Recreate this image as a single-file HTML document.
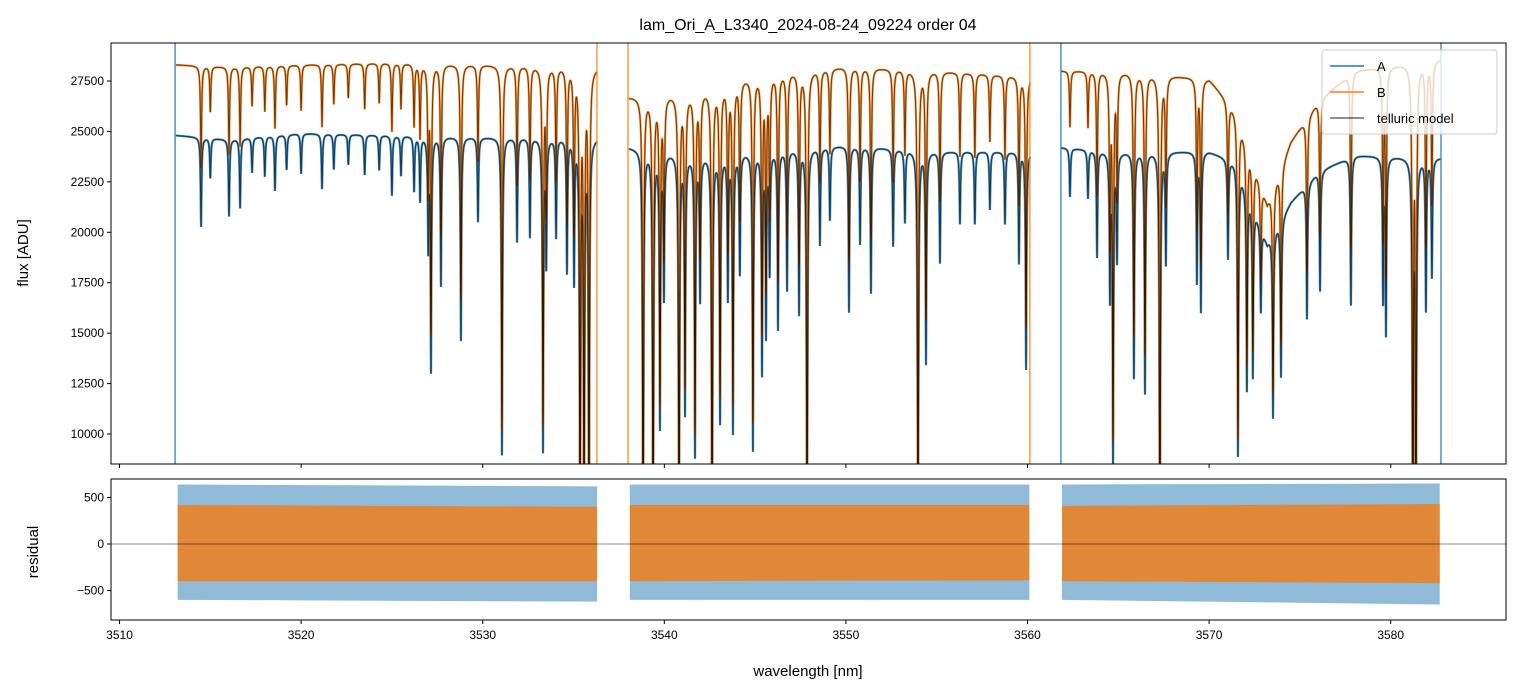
<!DOCTYPE html>
<html><head><meta charset="utf-8">
<style>
html,body{margin:0;padding:0;background:#fff;}
svg{display:block;font-family:"Liberation Sans","DejaVu Sans",sans-serif;}
</style></head>
<body>
<svg id="chart" width="1520" height="696" viewBox="0 0 1520 696" xmlns="http://www.w3.org/2000/svg">
<defs>
<clipPath id="clipTop"><rect x="111" y="43" width="1395" height="421"/></clipPath>
<clipPath id="clipBot"><rect x="111" y="479" width="1395" height="141"/></clipPath>
</defs>
<rect x="0" y="0" width="1520" height="696" fill="#fff"/>
<text x="808" y="30" text-anchor="middle" font-size="16" fill="#000">lam_Ori_A_L3340_2024-08-24_09224  order 04</text>
<g id="topPlot" clip-path="url(#clipTop)"></g>
<g id="botPlot" clip-path="url(#clipBot)"></g>
<g id="axes"></g>
<text transform="translate(28,253) rotate(-90)" text-anchor="middle" font-size="15">flux [ADU]</text>
<text transform="translate(38,552) rotate(-90)" text-anchor="middle" font-size="15">residual</text>
<text x="808" y="676" text-anchor="middle" font-size="15">wavelength [nm]</text>
<g>
<rect x="1322" y="50" width="175" height="84" rx="3" fill="#fff" fill-opacity="0.8" stroke="#ccc"/>
<line x1="1330" y1="66" x2="1364" y2="66" stroke="#1f77b4" stroke-width="1.5"/>
<text x="1377" y="71" font-size="13">A</text>
<line x1="1330" y1="92" x2="1364" y2="92" stroke="#ff7f0e" stroke-width="1.5"/>
<text x="1377" y="97" font-size="13">B</text>
<line x1="1330" y1="118" x2="1364" y2="118" stroke="#000" stroke-opacity="0.6" stroke-width="1.5"/>
<text x="1377" y="123" font-size="13">telluric model</text>
</g>
</svg>
<script>
// ---- data ----
const xTicks = [3510,3520,3530,3540,3550,3560,3570,3580];
const yTicksFlux = [10000,12500,15000,17500,20000,22500,25000,27500];
const yTicksRes = [-500,0,500];
const segments = [[3513.1,3536.3],[3538.05,3560.15],[3561.85,3582.75]];
const contKnotsWl = [3513.1,3516,3520,3525,3530,3536.3, 3538.05,3542,3545,3550,3555,3560.15, 3561.85,3565,3570,3571.5,3573.2,3574.5,3576,3578,3582.75];
const contA = [24800,24600,24900,24800,24700,24700, 24200,23800,24000,24300,24000,24000, 24200,24000,24000,23500,19500,21500,23000,23800,23700];
const contB = [28300,28200,28300,28400,28300,28200, 26700,27000,27800,28200,28000,27700, 28000,28000,27600,26000,21500,24500,26500,28000,28600];
const lineWl = [3514.49,3515.0,3516.03,3516.64,3517.3,3518.0,3518.56,3519.2,3520.0,3521.15,3521.8,3522.6,3523.5,3524.3,3525.0,3525.5,3526.22,3526.55,3527.0,3527.15,3527.7,3528.8,3529.74,3531.06,3531.89,3532.6,3533.32,3533.5,3534.04,3534.64,3535.03,3535.36,3535.58,3535.85,
 3538.83,3539.38,3539.76,3539.98,3540.81,3541.14,3541.69,3541.97,3542.63,3543.07,3543.5,3543.78,3544.16,3544.88,3545.38,3545.6,3545.8,3546.26,3546.76,3547.42,3547.86,3548.57,3549.12,3550.17,3550.78,3551.38,3552.6,3553.25,3553.97,3554.41,3555.18,3556.28,3557.1,3557.93,3558.76,3559.53,3559.92,
 3562.34,3563.33,3563.83,3564.54,3564.71,3564.93,3565.86,3566.47,3567.29,3567.62,3569.33,3569.55,3571.04,3571.59,3572.08,3572.41,3572.85,3573.52,3573.96,3575.39,3576.11,3577.81,3579.58,3579.74,3581.22,3581.39,3581.94,3582.27];
const lineDepth = [0.18,0.08,0.155,0.14,0.07,0.08,0.11,0.07,0.08,0.11,0.07,0.06,0.08,0.07,0.12,0.08,0.11,0.13,0.22,0.47,0.3,0.41,0.17,0.64,0.21,0.2,0.63,0.25,0.2,0.27,0.29,0.85,0.85,0.85,
 0.88,0.88,0.57,0.3,0.88,0.54,0.63,0.3,0.88,0.56,0.3,0.58,0.25,0.62,0.46,0.38,0.25,0.37,0.29,0.34,0.88,0.2,0.15,0.34,0.2,0.3,0.2,0.15,0.88,0.44,0.23,0.15,0.15,0.12,0.15,0.23,0.45,
 0.1,0.1,0.22,0.3,0.65,0.22,0.47,0.5,0.88,0.23,0.27,0.33,0.21,0.62,0.45,0.4,0.21,0.46,0.38,0.3,0.26,0.31,0.3,0.37,0.88,0.88,0.32,0.25];
const lineWidth = 0.035;
const edgeWl = [3513.06,3536.29,3538.0,3560.13,3561.84,3582.77];
const edgeSeries = ['A','B','B','B','A','A'];
const resWlA = [3513.2,3536.3, 3538.1,3560.1, 3561.9,3582.7];
const resLoA = [-600,-620, -600,-600, -600,-650];
const resHiA = [640,620, 640,640, 640,650];
const resLoB = [-400,-400, -400,-390, -400,-420];
const resHiB = [420,400, 420,420, 410,430];

// ---- scales ----
const X0=3509.53,X1=3586.35,PL=111,PR=1506;
const xs = w => PL + (w-X0)/(X1-X0)*(PR-PL);
const F0=8513,F1=29384,PT=43,PB=464;
const ys = f => PT + (F1-f)/(F1-F0)*(PB-PT);
const R0=-817,R1=699,RT=479,RB=620;
const yr = r => RT + (R1-r)/(R1-R0)*(RB-RT);

const NS='http://www.w3.org/2000/svg';
function mk(tag, attrs, parent){const e=document.createElementNS(NS,tag);for(const k in attrs)e.setAttribute(k,attrs[k]);parent.appendChild(e);return e;}

function cont(w, arr){
  for(let i=0;i<contKnotsWl.length-1;i++){
    if(w>=contKnotsWl[i] && w<=contKnotsWl[i+1]){
      const a=contKnotsWl[i],b=contKnotsWl[i+1];
      if(b<=a) continue;
      return arr[i]+(arr[i+1]-arr[i])*(w-a)/(b-a);
    }
  }
  return arr[arr.length-1];
}
function trans(w){
  let t=1;
  for(let i=0;i<lineWl.length;i++){
    const d=(w-lineWl[i])/lineWidth;
    if(Math.abs(d)>60) continue;
    t*= 1 - lineDepth[i]/(1+d*d);
  }
  return t;
}
const topG=document.getElementById('topPlot');
const botG=document.getElementById('botPlot');

function seriesPath(arr){
  let d='';
  segments.forEach(s=>{
    let first=true;
    for(let w=s[0]; w<=s[1]; w+=0.006){
      const f=cont(w,arr)*trans(w);
      d+=(first?'M':'L')+xs(w).toFixed(2)+' '+ys(f).toFixed(2);
      first=false;
    }
  });
  return d;
}
const pA=seriesPath(contA), pB=seriesPath(contB);
const eA=mk('path',{d:pA,fill:'none',stroke:'#1f77b4','stroke-width':2.2,'stroke-opacity':0.85},topG);


const eB=mk('path',{d:pB,fill:'none',stroke:'#ff7f0e','stroke-width':2.2,'stroke-opacity':0.85},topG);


const mA=mk('path',{d:pA,fill:'none',stroke:'#000','stroke-width':1,'stroke-opacity':0.6},topG);


const mB=mk('path',{d:pB,fill:'none',stroke:'#000','stroke-width':1,'stroke-opacity':0.6},topG);


edgeWl.forEach((w,i)=>{
  const l=mk('line',{x1:xs(w),x2:xs(w),y1:PT,y2:PB,stroke:edgeSeries[i]==='A'?'#1f77b4':'#ff7f0e','stroke-width':1.5,'stroke-opacity':0.8},topG);
  
  
});

for(let i=0;i<resWlA.length;i+=2){
  const x1=xs(resWlA[i]),x2=xs(resWlA[i+1]);
  const ba=mk('polygon',{points:`${x1},${yr(resHiA[i])} ${x2},${yr(resHiA[i+1])} ${x2},${yr(resLoA[i+1])} ${x1},${yr(resLoA[i])}`,fill:'#1f77b4','fill-opacity':0.5},botG);
  
  
  const bb=mk('polygon',{points:`${x1},${yr(resHiB[i])} ${x2},${yr(resHiB[i+1])} ${x2},${yr(resLoB[i+1])} ${x1},${yr(resLoB[i])}`,fill:'#e8822a','fill-opacity':0.92},botG);
  
  
}
const zl=mk('line',{x1:PL,x2:PR,y1:yr(0),y2:yr(0),stroke:'#000','stroke-width':0.8,'stroke-opacity':0.6},botG);



const ax=document.getElementById('axes');
const f1=mk('rect',{x:PL,y:PT,width:PR-PL,height:PB-PT,fill:'none',stroke:'#000','stroke-width':1},ax);


const f2=mk('rect',{x:PL,y:RT,width:PR-PL,height:RB-RT,fill:'none',stroke:'#000','stroke-width':1},ax);


xTicks.forEach(v=>{
  const x=xs(v);
  const t1=mk('line',{x1:x,x2:x,y1:PB,y2:PB+4,stroke:'#000'},ax);
  
  
  const t2=mk('line',{x1:x,x2:x,y1:RB,y2:RB+4,stroke:'#000'},ax);
  
  
  const tl=mk('text',{x:x,y:RB+19,'text-anchor':'middle','font-size':12},ax);
  tl.textContent=v;
  
  
});
yTicksFlux.forEach(v=>{
  const y=ys(v);
  const t=mk('line',{x1:PL-4,x2:PL,y1:y,y2:y,stroke:'#000'},ax);
  
  
  const tl=mk('text',{x:PL-7,y:y+4,'text-anchor':'end','font-size':12},ax);
  tl.textContent=v;
  
  
});
yTicksRes.forEach(v=>{
  const y=yr(v);
  const t=mk('line',{x1:PL-4,x2:PL,y1:y,y2:y,stroke:'#000'},ax);
  
  
  const tl=mk('text',{x:PL-7,y:y+4,'text-anchor':'end','font-size':12},ax);
  tl.textContent=v<0?'\u2212'+(-v):v;
  
  
});
</script>
</body></html>
